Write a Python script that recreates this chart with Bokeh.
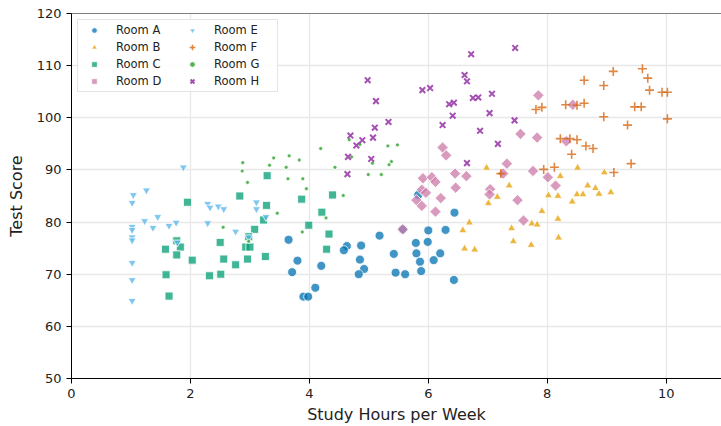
import math
from bokeh.plotting import figure
from bokeh.models import ColumnDataSource, Legend, LegendItem, Span, FixedTicker, Range1d
from bokeh.embed import file_html
from bokeh.resources import INLINE

rooms = ["Room A", "Room B", "Room C", "Room D", "Room E", "Room F", "Room G", "Room H"]

a_x = [5.83, 6.44, 3.65, 4.63, 4.58, 4.87, 5.18, 6.00, 6.29, 5.79, 5.99, 5.42, 5.80, 6.20, 3.80,
       4.20, 4.85, 5.86, 6.09, 4.92, 4.83, 3.71, 5.45, 5.61, 5.88, 6.43, 4.10, 3.90, 3.98, 5.57]
a_y = [85.2, 81.8, 76.6, 75.4, 74.6, 75.5, 77.4, 78.4, 78.5, 76.0, 76.2, 73.9, 74.0, 74.0, 72.6,
       71.6, 72.8, 72.4, 72.7, 71.0, 70.0, 70.4, 70.3, 70.0, 70.6, 68.9, 67.4, 65.7, 65.7, 78.6]

b_x = [6.98, 8.22, 8.51, 8.96, 7.36, 7.16, 7.01, 8.02, 8.18, 8.42, 8.50, 8.60, 8.68, 8.81, 8.87,
       9.07, 7.91, 8.18, 6.69, 6.58, 7.40, 7.74, 7.83, 8.19, 7.43, 7.73, 6.61, 6.78]
b_y = [90.4, 88.8, 90.4, 89.5, 87.0, 84.8, 83.6, 85.1, 85.0, 83.9, 85.3, 85.3, 87.0, 86.5, 85.4,
       85.7, 82.1, 80.6, 79.9, 78.4, 78.8, 79.7, 79.5, 77.0, 76.3, 75.6, 74.9, 74.7]

c_x = [3.29, 2.83, 1.95, 3.28, 3.87, 3.23, 3.08, 3.99, 1.77, 1.83, 1.58, 2.50, 2.98, 2.93, 3.00,
       1.77, 2.03, 2.56, 2.96, 3.26, 2.76, 1.59, 2.32, 2.51, 1.64, 4.39, 4.21, 4.33, 4.29]
c_y = [88.9, 85.0, 83.8, 83.2, 84.4, 80.4, 78.6, 79.4, 76.4, 75.2, 74.8, 76.1, 77.2, 75.2, 75.2,
       73.7, 72.7, 72.9, 72.9, 73.4, 71.8, 69.9, 69.7, 70.0, 65.8, 85.2, 81.9, 77.7, 74.8]

d_x = [5.89, 5.96, 5.80, 5.89, 6.21, 6.12, 6.46, 6.24, 6.30, 7.55, 7.83, 7.85, 5.91, 6.06, 6.45,
       6.64, 7.04, 7.03, 7.32, 7.26, 7.76, 8.01, 8.14, 8.32, 7.50, 7.60, 8.43, 5.57, 6.12]
d_y = [86.2, 85.6, 84.2, 83.1, 84.6, 82.0, 86.6, 94.3, 92.8, 96.9, 96.2, 104.3, 88.4, 88.6, 89.3,
       88.8, 86.3, 85.3, 91.2, 89.3, 89.8, 88.6, 87.0, 95.5, 84.2, 80.3, 102.5, 78.6, 87.7]

e_x = [1.88, 1.04, 1.26, 1.02, 2.29, 2.33, 2.47, 2.56, 3.11, 3.11, 3.27, 1.23, 1.45, 1.76, 1.64,
       1.37, 2.29, 1.02, 1.02, 1.02, 1.02, 2.76, 2.98, 1.78, 1.02, 1.02, 1.02]
e_y = [90.5, 85.2, 86.1, 83.7, 83.5, 82.8, 83.0, 82.5, 83.8, 82.5, 81.0, 80.2, 81.0, 79.9, 79.3,
       78.9, 79.8, 79.1, 78.5, 77.1, 76.5, 78.2, 77.1, 76.1, 72.2, 68.9, 64.9]

f_x = [9.11, 9.60, 9.69, 8.62, 8.95, 9.72, 9.93, 10.02, 8.31, 8.50, 8.62, 9.47, 9.58, 8.95, 10.02,
       9.35, 8.38, 8.50, 8.65, 8.77, 8.41, 9.41, 9.12, 7.94, 8.12, 7.81, 7.91, 8.22, 7.22]
f_y = [108.9, 109.4, 107.6, 107.2, 106.2, 105.3, 104.9, 104.9, 102.5, 102.4, 102.8, 102.1, 102.1, 100.2, 99.8,
       98.6, 96.0, 95.8, 94.6, 94.1, 93.0, 91.2, 89.5, 90.1, 90.5, 101.6, 102.0, 96.0, 89.3]

g_x = [2.88, 2.87, 2.96, 3.40, 3.33, 3.66, 3.61, 3.83, 3.64, 3.89, 3.95, 3.46, 2.55, 3.88, 2.98,
       4.57, 4.28, 4.19, 4.43, 4.67, 4.85, 4.71, 5.32, 5.48, 5.38, 5.34, 5.06, 4.99, 5.21]
g_y = [91.4, 89.8, 87.6, 92.3, 90.9, 92.7, 90.5, 91.9, 88.3, 88.3, 86.4, 81.7, 79.0, 78.1, 76.3,
       85.1, 80.8, 94.1, 90.5, 95.8, 94.9, 92.5, 94.6, 94.8, 91.6, 91.0, 91.3, 89.1, 89.1]

h_x = [6.72, 7.46, 4.98, 6.61, 6.65, 5.90, 6.03, 5.12, 6.35, 6.43, 6.75, 6.84, 7.07, 6.41, 7.03,
       7.45, 5.33, 5.10, 6.24, 6.87, 4.69, 4.89, 5.07, 4.79, 7.17, 4.65, 5.04, 6.65, 4.64]
h_y = [112.2, 113.4, 107.2, 108.2, 107.0, 105.3, 105.7, 103.2, 102.6, 102.9, 103.8, 103.9, 104.6, 100.4, 100.9,
       99.5, 99.2, 98.1, 98.6, 97.5, 96.6, 95.7, 96.2, 94.7, 95.0, 92.5, 92.1, 91.3, 89.2]

x_ticks = [0, 2, 4, 6, 8, 10]
y_ticks = [50, 60, 70, 80, 90, 100, 110, 120]

# (x, y, marker, colour, size, line width, alpha, angle)
series = [
    (a_x, a_y, "circle", "#0072B2", 9, 1, 0.75, 0),
    (b_x, b_y, "triangle", "#E69F00", 8, 1, 0.75, 0),
    (c_x, c_y, "square", "#009E73", 8, 1, 0.75, 0),
    (d_x, d_y, "square", "#CC79A7", 8, 1, 0.75, math.pi / 4),
    (e_x, e_y, "inverted_triangle", "#56B4E9", 8, 1, 0.75, 0),
    (f_x, f_y, "cross", "#D55E00", 9, 1.6, 0.75, 0),
    (g_x, g_y, "circle", "#2CA02C", 4, 1, 0.8, 0),
    (h_x, h_y, "x", "#8E24A0", 8, 2, 0.8, 0),
]

p = figure(width=721, height=426, output_backend="svg", toolbar_location=None,
           x_range=Range1d(0, 10.93), y_range=Range1d(50, 120),
           min_border_left=71, min_border_right=0, min_border_top=13, min_border_bottom=47)
p.outline_line_color = None
p.background_fill_color = "white"
p.border_fill_color = "white"

items = []
for (xs, ys, marker, color, size, lw, alpha, ang), name in zip(series, rooms):
    src = ColumnDataSource(dict(x=xs, y=ys))
    if marker in ("cross", "x"):
        r = p.scatter("x", "y", source=src, marker=marker, size=size, line_color=color,
                      line_width=lw, line_alpha=alpha)
    else:
        r = p.scatter("x", "y", source=src, marker=marker, size=size, angle=ang, fill_color=color,
                      fill_alpha=alpha, line_color="white", line_width=lw, line_alpha=0.8)
    items.append(LegendItem(label=name, renderers=[r]))

top = Span(location=120, dimension="width", line_color="black", line_width=1)
p.add_layout(top)

for ax in (p.xaxis[0], p.yaxis[0]):
    ax.axis_line_color = "black"
    ax.axis_line_width = 1
    ax.major_tick_line_color = "black"
    ax.major_tick_out = 5
    ax.major_tick_in = 0
    ax.minor_tick_line_color = None
    ax.major_label_text_font = "DejaVu Sans"
    ax.major_label_text_font_size = "13px"
    ax.major_label_text_color = "#222222"
    ax.axis_label_text_font = "DejaVu Sans"
    ax.axis_label_text_font_size = "16px"
    ax.axis_label_text_font_style = "normal"
    ax.axis_label_text_color = "#222222"

p.xaxis[0].ticker = FixedTicker(ticks=x_ticks)
p.yaxis[0].ticker = FixedTicker(ticks=y_ticks)
p.xaxis[0].axis_label = "Study Hours per Week"
p.yaxis[0].axis_label = "Test Score"
p.xaxis[0].axis_label_standoff = 4
p.yaxis[0].axis_label_standoff = 8

p.xgrid.grid_line_color = "#e8e8e8"
p.ygrid.grid_line_color = "#e8e8e8"
p.xgrid.grid_line_width = 1.3
p.ygrid.grid_line_width = 1.3

legend = Legend(items=items, location="top_left", nrows=4, orientation="vertical")
legend.label_text_font = "DejaVu Sans"
legend.label_text_font_size = "11.5px"
legend.label_text_color = "#222222"
legend.glyph_width = 26
legend.glyph_height = 14
legend.label_height = 14
legend.spacing = 3
legend.label_standoff = 9
legend.label_width = 60
legend.padding = 3
legend.margin = 6
legend.border_line_color = "#cccccc"
legend.border_line_width = 1
legend.background_fill_alpha = 0.85
p.add_layout(legend)

open("out.html", "w").write(file_html(p, INLINE))
